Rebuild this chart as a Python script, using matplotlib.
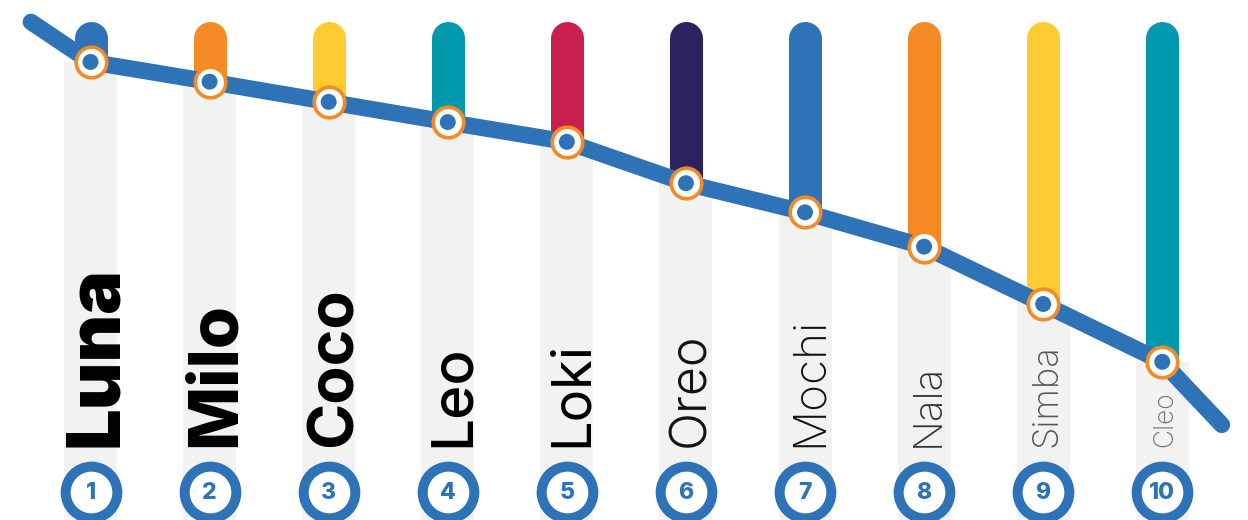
import matplotlib
matplotlib.use("Agg")
import matplotlib.pyplot as plt
import numpy as np

# data (0-100 scale)
names = ['Luna', 'Milo', 'Coco', 'Leo', 'Loki', 'Oreo', 'Mochi', 'Nala', 'Simba', 'Cleo']
ranks = [1, 2, 3, 4, 5, 6, 7, 8, 9, 10]
scores = [91.5, 87.3, 83.0, 78.7, 74.5, 65.7, 59.5, 52.2, 40.0, 27.7]
line_ends = [100, 14.3]   # lead-in / lead-out of the trend line
bar_colors = ['#2e72b8', '#f58a24', '#fecb33', '#0099ad', '#c91f4f',
              '#2a2360', '#2e72b8', '#f58a24', '#fecb33', '#0099ad']
name_sizes = [53, 49, 45, 42, 39, 36, 33, 29, 26, 19]
name_weights = [900, 800, 700, 500, 400, 300, 250, 200, 200, 200]
name_colors = ['#000000', '#000000', '#000000', '#000000', '#000000',
               '#111111', '#111111', '#333333', '#555555', '#707070']

BLUE = '#2e72b8'
ORANGE = '#f58a24'
TOP = 100
FONT = ['Inter', 'DejaVu Sans']

fig = plt.figure(figsize=(12.48, 5.2), dpi=100)
ax = fig.add_axes([0, 0, 1, 1])
ax.set_xlim(-0.76, 9.72)
ax.set_ylim(-5.96, 104.68)
ax.axis('off')

x = np.arange(len(names))
px_per_unit = 520 / (104.68 + 5.96)

# gray background columns
ax.bar(x, np.array(scores) - ax.get_ylim()[0], bottom=ax.get_ylim()[0],
       width=0.445, color='#f2f2f2', zorder=1)

# names, rotated, bottoms lined up
for i, n in enumerate(names):
    fs = name_sizes[i]
    ax.annotate(n, (x[i], 9.6), xytext=(0.364 * fs, 0), textcoords='offset points',
                rotation=90, rotation_mode='anchor', ha='left', va='baseline',
                fontsize=fs, fontweight=name_weights[i], color=name_colors[i],
                family=FONT, zorder=2)

# coloured bars from the top down to the score, round caps
cap = 16.5 / px_per_unit
for i in range(len(names)):
    ax.plot([x[i], x[i]], [TOP - cap, scores[i]], color=bar_colors[i],
            lw=23.8, solid_capstyle='round', zorder=3)

# trend line
lx = np.concatenate([[-0.5], x, [x[-1] + 0.5]])
ly = np.concatenate([[line_ends[0]], scores, [line_ends[1]]])
ax.plot(lx, ly, color=BLUE, lw=12, solid_capstyle='round',
        solid_joinstyle='round', zorder=4)

# markers
ax.scatter(x, scores, s=484, facecolor='white', edgecolor=ORANGE, linewidth=2.6, zorder=5)
ax.scatter(x, scores, s=132, facecolor=BLUE, edgecolor='none', zorder=6)

# rank circles
ax.scatter(x, np.zeros(len(x)), s=1385, facecolor='white', edgecolor=BLUE,
           linewidth=7.2, zorder=7)
for i, r in enumerate(ranks):
    ax.text(x[i], -0.3, str(r), ha='center', va='center', fontsize=16.5,
            fontweight=800, color=BLUE, family=FONT, zorder=8)

fig.savefig('out.png', dpi=100)
